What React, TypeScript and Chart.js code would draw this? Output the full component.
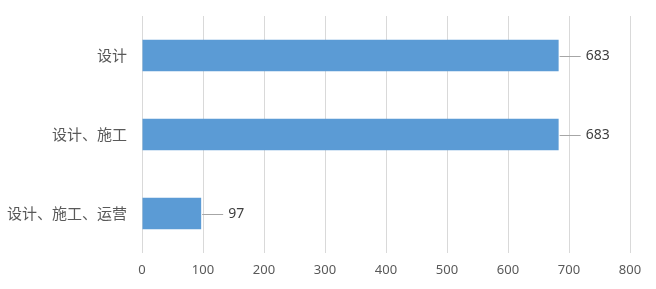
import React, { useEffect, useRef } from "react";
import { Chart, registerables } from "chart.js";

Chart.register(...registerables);

const categories = ["设计", "设计、施工", "设计、施工、运营"];
const values = [683, 683, 97];
const xTicks = [0, 100, 200, 300, 400, 500, 600, 700, 800];

const labelPlugin = {
  id: "leaderLabels",
  afterDatasetsDraw(chart: any) {
    const ctx = chart.ctx;
    const meta = chart.getDatasetMeta(0);
    ctx.save();
    meta.data.forEach((bar: any, i: number) => {
      const x = bar.x;
      const y = bar.y;
      ctx.strokeStyle = "#a6a6a6";
      ctx.lineWidth = 1;
      ctx.beginPath();
      ctx.moveTo(x + 1, Math.round(y) + 0.5);
      ctx.lineTo(x + 22, Math.round(y) + 0.5);
      ctx.stroke();
      ctx.fillStyle = "#404040";
      ctx.font = "14px 'Noto Sans', 'Noto Sans CJK SC', sans-serif";
      ctx.textAlign = "left";
      ctx.textBaseline = "middle";
      ctx.fillText(String(values[i]), x + 27, y + 1);
    });
    ctx.restore();
  },
};

export default function App() {
  const ref = useRef<HTMLCanvasElement>(null);
  useEffect(() => {
    document.body.style.margin = "0";
    const chart = new Chart(ref.current!, {
      type: "bar",
      data: {
        labels: categories,
        datasets: [
          {
            data: values,
            backgroundColor: "#5b9bd5",
            borderWidth: 0,
            categoryPercentage: 1,
            barPercentage: 0.4,
          },
        ],
      },
      options: {
        indexAxis: "y",
        animation: false,
        responsive: false,
        maintainAspectRatio: false,
        layout: { padding: { top: 16, right: 26, left: 0, bottom: 0 } },
        plugins: { legend: { display: false }, tooltip: { enabled: false } },
        scales: {
          x: {
            min: 0,
            max: 800,
            afterBuildTicks: (scale: any) => {
              scale.ticks = xTicks.map((v) => ({ value: v }));
            },
            grid: { color: "#d9d9d9", drawTicks: false, lineWidth: 1 },
            border: { display: false },
            ticks: {
              color: "#595959",
              padding: 9,
              font: { size: 13, family: "'Noto Sans', 'Noto Sans CJK SC', sans-serif" },
            },
            afterFit: (scale: any) => {
              scale.height = 36;
            },
          },
          y: {
            grid: { display: false, drawTicks: false },
            border: { display: false },
            ticks: {
              color: "#595959",
              padding: 15,
              font: { size: 15, family: "'Noto Sans CJK SC', sans-serif" },
            },
            afterFit: (scale: any) => {
              scale.width = 142;
              scale.paddingTop = 0;
              scale.paddingBottom = 0;
            },
          },
        },
      },
      plugins: [labelPlugin],
    });
    return () => chart.destroy();
  }, []);
  return (
    <div style={{ position: "absolute", left: 0, top: 0, width: 656, height: 289 }}>
      <canvas ref={ref} width={656} height={289} />
    </div>
  );
}
